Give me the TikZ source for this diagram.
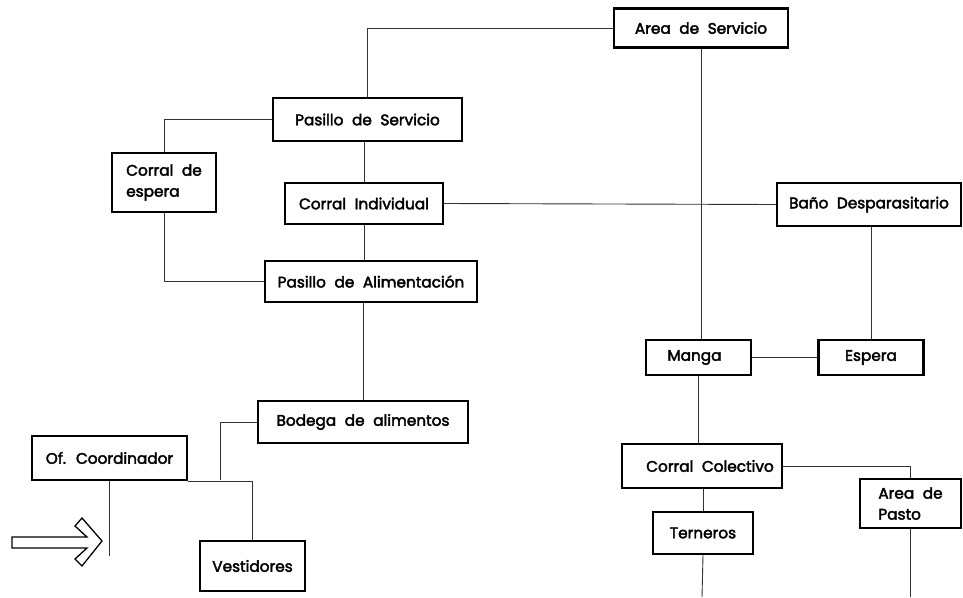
\documentclass[tikz,border=0pt]{standalone}
\usepackage{fontspec}
\setmainfont[WordSpace=2.1,FakeBold=2.6]{Poppins}
\begin{document}
\begin{tikzpicture}[x=1pt,y=-1pt,
  box/.style={draw,line width=2.4pt,inner sep=0pt,font=\fontsize{15.3}{21}\selectfont},
  conn/.style={line width=0.9pt,draw=black!80}]
\useasboundingbox (0,0) rectangle (963,597);
\node[box,minimum width=174pt,minimum height=39pt] (AS) at (701,28) {Area de Servicio};
\node[box,minimum width=189pt,minimum height=43pt] (PS) at (367.5,119.5) {Pasillo de Servicio};
\node[box,minimum width=104pt,minimum height=59pt,align=left] (CE) at (164,182.5) {Corral de\\espera};
\node[box,minimum width=158pt,minimum height=41pt] (CI) at (364,203.5) {Corral Individual};
\node[box,minimum width=184pt,minimum height=43pt] (BD) at (869,204.5) {Baño Desparasitario};
\node[box,minimum width=212pt,minimum height=41pt] (PA) at (371,281.5) {Pasillo de Alimentación};
\node[box,minimum width=210pt,minimum height=42pt] (BA) at (363,422) {Bodega de alimentos};
\node[box,minimum width=155pt,minimum height=44pt] (OC) at (109.5,458) {Of. Coordinador};
\node[box,minimum width=105pt,minimum height=50pt] (VE) at (252.5,566) {Vestidores};
\node[box,minimum width=105pt,minimum height=35pt] (MA) at (698.5,357.5) {\hspace*{-8pt}Manga};
\node[box,minimum width=105pt,minimum height=35pt] (ES) at (871,357.5) {Espera};
\node[box,minimum width=160pt,minimum height=44pt] (CC) at (702,466) {\hspace*{16pt}Corral Colectivo};
\node[box,minimum width=101pt,minimum height=49pt,align=left] (AP) at (910.5,503.5) {Area de\\Pasto};
\node[box,minimum width=100pt,minimum height=42pt] (TE) at (703,533) {Terneros};
\coordinate (J) at (220,480);
\coordinate (OCend) at (109.5,556);
\coordinate (TEend) at (702,597);
\coordinate (APend) at (910.5,597);
\draw[conn] (AS.west) -| (PS.north);
\draw[conn] (AS.south) -- (AS.south |- MA.north);
\draw[conn] (PS.west) -| (CE.north);
\draw[conn] (CE.south) |- (PA.west);
\draw[conn] (CI.north) -- (CI.north |- PS.south);
\draw[conn] (CI.east) -- (BD.west);
\draw[conn] (CI.south) -- (CI.south |- PA.north);
\draw[conn] (BA.north) -- (BA.north |- PA.south);
\draw[conn] (BA.west) -| (J);
\draw[conn] (OC.south east) -| (VE.north);
\draw[conn] (OC.south) -- (OCend);
\draw[conn] (ES.north) -- (ES.north |- BD.south);
\draw[conn] (MA.east) -- (ES.west);
\draw[conn] (MA.south) -- (MA.south |- CC.north);
\draw[conn] (CC.east) -| (AP.north);
\draw[conn] (TE.north) -- (TE.north |- CC.south);
\draw[conn] (TE.south) -- (TEend);
\draw[conn] (AP.south) -- (APend);
\draw[line width=1.3pt,line join=miter] (12,537) -- (87,537) -- (75,526) -- (82,518) -- (102,541) -- (82,566) -- (75,559) -- (87,548) -- (12,548) -- cycle;
\end{tikzpicture}
\end{document}
